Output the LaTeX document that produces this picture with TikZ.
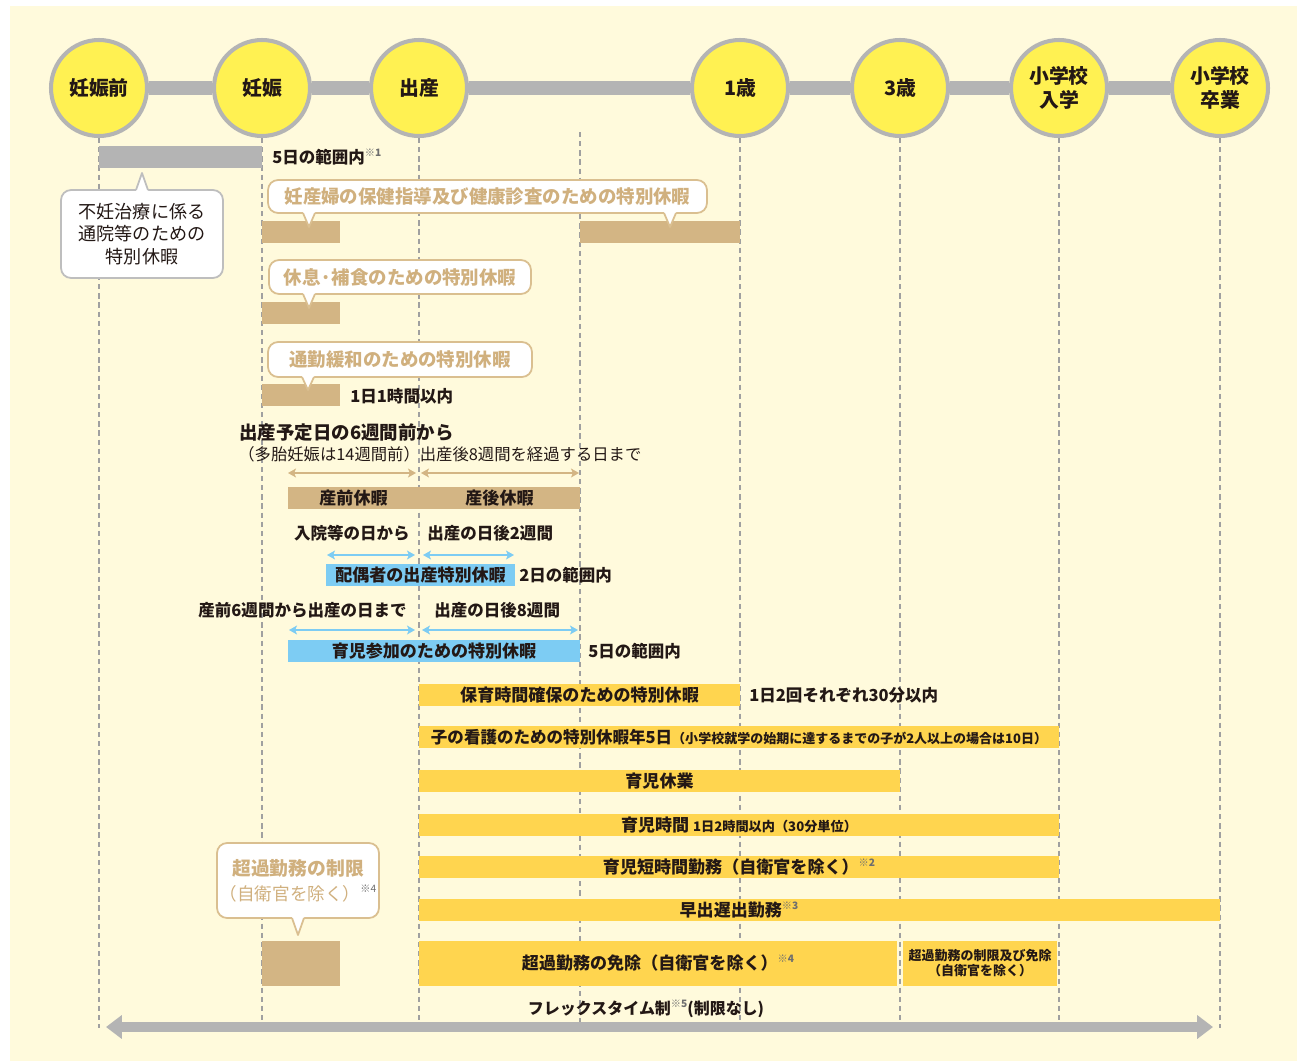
\documentclass[tikz,border=0pt]{standalone}
\usepackage{fontspec}
\setmainfont{Noto Sans CJK JP}
\usetikzlibrary{arrows.meta}
\definecolor{cream}{HTML}{FFFADC}
\definecolor{ringgray}{HTML}{B4B4B4}
\definecolor{sunyellow}{HTML}{FFF152}
\definecolor{tan}{HTML}{D3B584}
\definecolor{tanline}{HTML}{DABF90}
\definecolor{tantext}{HTML}{D0B07E}
\definecolor{skyblue}{HTML}{7DCCF3}
\definecolor{baryellow}{HTML}{FFD54F}
\definecolor{ink}{HTML}{231815}
\definecolor{dashgray}{HTML}{A0A0A0}
\definecolor{bubgray}{HTML}{BEBEBE}
\definecolor{notegray}{HTML}{6E6E6E}
\newcommand{\kome}[1]{\raisebox{0.42em}{\fontsize{5.8}{6}\selectfont\color{notegray}※#1}} % footnote mark
\newcommand{\bubtip}[5]{% x, edge y, tip y, inner y, colour
  \fill[white] (#1-6,#4) -- (#1-6,#2) -- (#1,#3) -- (#1+6,#2) -- (#1+6,#4) -- cycle;
  \draw[#5, line width=1pt, line join=round] (#1-6,#2) -- (#1,#3) -- (#1+6,#2);}
\begin{document}
\begin{tikzpicture}[x=0.02cm, y=-0.02cm] % 1px = 0.02cm
\tikzstyle{stage} = [circle, draw=ringgray, line width=2.3pt, fill=sunyellow, minimum size=1.92cm, inner sep=0pt, align=center, text=ink, font=\fontsize{11.3}{13.6}\selectfont\bfseries] % milestone circle
\tikzstyle{timeline} = [draw=ringgray, line width=8.5pt] % grey band between circles
\tikzstyle{guide} = [draw=dashgray, line width=0.7pt, dash pattern=on 3pt off 2.2pt] % dashed column
\tikzstyle{barbase} = [rectangle, inner sep=0pt, minimum height=0.44cm, text=ink, font=\fontsize{9.7}{11}\selectfont\bfseries]
\tikzstyle{graybar} = [barbase, fill=ringgray]
\tikzstyle{tanbar} = [barbase, fill=tan]
\tikzstyle{bluebar} = [barbase, fill=skyblue]
\tikzstyle{yelbar} = [barbase, fill=baryellow]
\tikzstyle{bubble} = [rectangle, rounded corners=0.2cm, fill=white, draw=tanline, line width=1pt, inner sep=0pt, text=tantext, font=\fontsize{10.5}{14}\selectfont\bfseries] % speech bubble
\tikzstyle{txtnote} = [inner sep=0pt, text=ink, font=\fontsize{9.4}{11}\selectfont\bfseries] % free text
\tikzstyle{tanarrow} = [draw=tan, line width=1.1pt, {Stealth[length=4.5pt,width=5pt,inset=1pt]}-{Stealth[length=4.5pt,width=5pt,inset=1pt]}]
\tikzstyle{bluearrow} = [tanarrow, draw=skyblue]
\tikzstyle{bigarrow} = [draw=ringgray, line width=6.2pt, {Triangle[length=9pt,width=13pt]}-{Triangle[length=9pt,width=13pt]}]
\useasboundingbox (0,0) rectangle (1297,1061);
\fill[cream] (10,6) rectangle (1297,1061); % background
% milestones
\node[stage] (pre) at (99,88) {妊娠前};
\node[stage] (preg) at (262,88) {妊娠};
\node[stage] (birth) at (419,88) {出産};
\node[stage] (one) at (740,88) {1歳};
\node[stage] (three) at (900,88) {3歳};
\node[stage] (entry) at (1059,88) {小学校\\入学};
\node[stage] (grad) at (1220,88) {小学校\\卒業};
\draw[timeline] (pre) -- (preg) (preg) -- (birth) (birth) -- (one) (one) -- (three) (three) -- (entry) (entry) -- (grad);
% dashed columns
\coordinate (floor) at (0,1028);
\coordinate (wk8) at (580,132); % 8 weeks after birth
\draw[guide] (pre) -- (pre |- floor);
\draw[guide] (preg) -- (preg |- floor);
\draw[guide] (birth) -- (birth |- floor);
\draw[guide] (wk8) -- (wk8 |- floor);
\draw[guide] (one) -- (one |- floor);
\draw[guide] (three) -- (three |- floor);
\draw[guide] (entry) -- (entry |- floor);
\draw[guide] (grad) -- (grad |- floor);
% fertility treatment
\node[graybar, minimum width=3.26cm] (funin) at (180.5,157) {};
\node[txtnote, anchor=west] (funinT) at (272,157) {5日の範囲内\kome{1}};
\node[bubble, draw=bubgray, text=ink, minimum width=3.24cm, minimum height=1.76cm, align=center, font=\fontsize{10.3}{13}\selectfont] (funinB) at (142,234) {不妊治療に係る\\通院等のための\\特別休暇};
\bubtip{142}{190}{173}{193}{bubgray}
% pregnancy leaves
\node[bubble, minimum width=8.78cm, minimum height=0.66cm] (kenshinB) at (487.5,196.5) {妊産婦の保健指導及び健康診査のための特別休暇};
\node[tanbar, minimum width=1.56cm] (kenshinA) at (301,232) {};
\node[tanbar, minimum width=3.2cm] (kenshinC) at (660,232) {};
\bubtip{309}{213}{227}{210}{tanline}
\bubtip{670}{213}{227}{210}{tanline}
\node[bubble, minimum width=5.24cm, minimum height=0.68cm] (kyusokuB) at (400,277) {休息·補食のための特別休暇};
\node[tanbar, minimum width=1.56cm] (kyusoku) at (301,313) {};
\bubtip{309}{294}{308}{291}{tanline}
\node[bubble, minimum width=5.28cm, minimum height=0.7cm] (tsukinB) at (400,359.5) {通勤緩和のための特別休暇};
\node[tanbar, minimum width=1.56cm] (tsukin) at (301,395) {};
\bubtip{308}{377}{390}{374}{tanline}
\node[txtnote, anchor=west] (tsukinT) at (350,396) {1日1時間以内};
% maternity leave
\node[txtnote, anchor=west, font=\fontsize{10.5}{12}\selectfont\bfseries] (sanzenT) at (239,433) {出産予定日の6週間前から};
\node[txtnote, anchor=west, font=\fontsize{9.3}{11}\selectfont] (sangoT) at (238,454) {（多胎妊娠は14週間前）出産後8週間を経過する日まで};
\coordinate (sa1) at (288,473); \coordinate (sa2) at (416,473);
\coordinate (sa3) at (421,473); \coordinate (sa4) at (579,473);
\draw[tanarrow] (sa1) -- (sa2);
\draw[tanarrow] (sa3) -- (sa4);
\node[tanbar, minimum width=2.62cm] (sanzen) at (353.5,498) {産前休暇};
\node[tanbar, minimum width=3.22cm] (sango) at (499.5,498) {産後休暇};
% spouse leave
\node[txtnote, anchor=east] (haigu1) at (410,533) {入院等の日から};
\node[txtnote, anchor=west] (haigu2) at (427,533) {出産の日後2週間};
\coordinate (ha1) at (327,555); \coordinate (ha2) at (415,555);
\coordinate (ha3) at (423,555); \coordinate (ha4) at (514,555);
\draw[bluearrow] (ha1) -- (ha2);
\draw[bluearrow] (ha3) -- (ha4);
\node[bluebar, minimum width=3.78cm] (haigu) at (420.5,575) {配偶者の出産特別休暇};
\node[txtnote, anchor=west] (haiguT) at (519,575) {2日の範囲内};
% childcare participation
\node[txtnote, anchor=east] (sanka1) at (407,610) {産前6週間から出産の日まで};
\node[txtnote, anchor=west] (sanka2) at (434,610) {出産の日後8週間};
\coordinate (ka1) at (289,630); \coordinate (ka2) at (415,630);
\coordinate (ka3) at (422,630); \coordinate (ka4) at (578,630);
\draw[bluearrow] (ka1) -- (ka2);
\draw[bluearrow] (ka3) -- (ka4);
\node[bluebar, minimum width=5.84cm] (sanka) at (434,651) {育児参加のための特別休暇};
\node[txtnote, anchor=west] (sankaT) at (588,651) {5日の範囲内};
% childcare after birth
\node[yelbar, minimum width=6.42cm] (hoiku) at (579.5,695) {保育時間確保のための特別休暇};
\node[txtnote, anchor=west] (hoikuT) at (749,695) {1日2回それぞれ30分以内};
\node[yelbar, minimum width=12.8cm, font=\fontsize{9.4}{11}\selectfont\bfseries] (kango) at (739,737) {子の看護のための特別休暇年5日{\fontsize{7.4}{8}\selectfont（小学校就学の始期に達するまでの子が2人以上の場合は10日）}};
\node[yelbar, minimum width=9.62cm] (kyugyo) at (659.5,781) {育児休業};
\node[yelbar, minimum width=12.8cm] (jikan) at (739,825) {育児時間 {\fontsize{7.5}{8}\selectfont 1日2時間以内（30分単位）}};
\node[yelbar, minimum width=12.8cm] (tanjikan) at (739,867) {育児短時間勤務（自衛官を除く）\kome{2}};
\node[yelbar, minimum width=16.02cm] (hayade) at (819.5,910) {};
\node[txtnote, font=\fontsize{9.7}{11}\selectfont\bfseries] (hayadeT) at (739,910) {早出遅出勤務\kome{3}};
% overtime
\node[bubble, minimum width=3.24cm, minimum height=1.5cm, align=center, font=\fontsize{10.7}{14}\selectfont\bfseries] (choukaB) at (298,880.5) {超過勤務の制限\\{\mdseries\fontsize{10}{14}\selectfont（自衛官を除く）\kome{4}}};
\node[tanbar, minimum width=1.56cm, minimum height=0.9cm] (chouka) at (301,963.5) {};
\bubtip{298}{918}{935}{915}{tanline}
\node[yelbar, minimum width=9.56cm, minimum height=0.9cm] (menjo) at (658,963.5) {超過勤務の免除（自衛官を除く）\kome{4}};
\node[yelbar, minimum width=3.08cm, minimum height=0.9cm, align=center, font=\fontsize{7.4}{8.6}\selectfont\bfseries] (seigen) at (980,963.5) {超過勤務の制限及び免除\\（自衛官を除く）};
% flextime
\node[txtnote, font=\fontsize{9.1}{11}\selectfont\bfseries] (flex) at (646,1009) {フレックスタイム制\kome{5}(制限なし)};
\coordinate (tl) at (106,1027); \coordinate (tr) at (1213,1027);
\draw[bigarrow] (tl) -- (tr);
\end{tikzpicture}
\end{document}
